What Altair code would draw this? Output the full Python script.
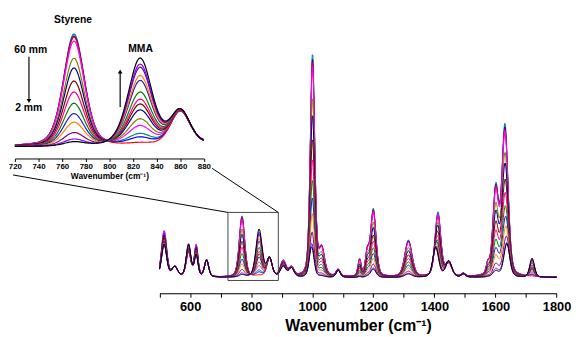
import altair as alt
import numpy as np
import pandas as pd

# ---- Raman band table (heights in main-panel px above baseline)
BAND_POS  = [515, 550, 595, 620, 654, 770, 826, 860, 905, 932, 997, 1001, 1031, 1085, 1155, 1180, 1200, 1315, 1404, 1412, 1447, 1495, 1575, 1601, 1631, 1638, 1720]
BAND_FWHM = [20, 22, 18, 14, 16, 21, 24, 20, 22, 20, 18, 17, 22, 16, 12, 14, 21, 28, 22, 22, 24, 16, 12, 22, 24, 22, 18]
STY_H     = [43, 0, 8, 24, 0, 62, 0, 0, 15, 0, 0, 224, 27, 0, 17, 22, 68, 37, 0, 63, 12, 0, 10, 87, 150, 0, 0]
MMA_H     = [32, 0, 17, 15, 0, 0, 48.5, 0, 10, 0, 24, 0, 0, 0, 0, 0, 6, 2, 29, 0, 16, 0, 0, 3, 0, 30, 19.5]
COM_H     = [0, 10, 16, 6, 17, 0, 0, 19, 0, 9, 0, 0, 0, 7, 0, 0, 0, 0, 0, 0, 0, 3, 0, 0, 0, 0, 0]

# ---- spectra (60 mm -> 2 mm): colour, styrene weight, MMA weight
SERIES = [f"spectrum {i:02d}" for i in range(1, 15)]
COLORS = ["#008080", "#0000FF", "#FF0000", "#FF00FF", "#808000", "#000080", "#800000",
          "#FF0080", "#008000", "#1E1EB4", "#FF8000", "#800080", "#8000FF", "#000000"]
STY_W = [1.0, 0.982, 0.974, 0.936, 0.783, 0.696, 0.579, 0.482, 0.38, 0.287, 0.21, 0.117, 0.059, 0.035]
MMA_W = [0.123, 0.084, 0.023, 0.214, 0.294, 0.397, 0.466, 0.523, 0.607, 0.741, 0.798, 0.893, 0.931, 1.0]

# ---- box, annotations
BOX_WN = [724, 889]
BOX_I = [-3, 66]
ANNOT_TEXT = ["Styrene", "MMA", "60 mm", "2 mm"]
ANNOT_WN = [769.2, 826.4, 733.4, 731.7]
ANNOT_I = [69.9, 54.0, 53.6, 21.6]
ARROW_WN = [731.9, 809.1]
ARROW_FROM = [50.0, 22.3]
ARROW_TO = [26.1, 41.3]
HEAD_I = [25.6, 41.8]
HEAD_SHAPE = ["triangle-down", "triangle-up"]


def band(x, x0, fwhm, eta=0.35):
    hw = fwhm / 2.0
    d = (x - x0) / hw
    return eta / (1 + d * d) + (1 - eta) * np.exp(-np.log(2) * d * d)


def build(wn):
    S = sum(h * band(wn, p, w) for p, w, h in zip(BAND_POS, BAND_FWHM, STY_H))
    M = sum(h * band(wn, p, w) for p, w, h in zip(BAND_POS, BAND_FWHM, MMA_H))
    C = sum(h * band(wn, p, w) for p, w, h in zip(BAND_POS, BAND_FWHM, COM_H))
    rows = []
    for name, s, m in zip(SERIES, STY_W, MMA_W):
        inten = s * S + m * M + C
        rows.append(pd.DataFrame({"wn": wn, "I": np.round(inten, 2), "series": name}))
    return pd.concat(rows, ignore_index=True)


df_main = build(np.arange(500, 1801, 2.0))
df_inset = build(np.arange(720, 880.5, 1.0))

# ---- layout (plot coordinates)
W, H = 564, 287
MX = [153.7, 556.3]
MY = [271, 31]
IX = [7, 198.7]
IY = [139, 139 - 70 * 1.84]
INSET_AXIS_Y = 150.3

FONT = "Liberation Sans"
color = alt.Color("series:N", scale=alt.Scale(domain=SERIES, range=COLORS), legend=None)

main_axis = alt.Axis(
    orient="bottom", offset=0, grid=False, values=list(range(500, 1801, 100)), format="d",
    labelExpr="datum.value % 200 == 0 ? datum.label : ''",
    domainColor="black", domainWidth=1.2, tickColor="black", tickSize=4, tickWidth=1,
    labelFont=FONT, labelFontSize=13, labelFontWeight="bold", labelColor="black",
    labelPadding=3, labelFlush=False, labelOverlap=False,
    title="Wavenumber (cm⁻¹)", titleFont=FONT, titleFontSize=16, titleFontWeight="bold",
    titleColor="black", titlePadding=5,
)
inset_axis = alt.Axis(
    orient="bottom", offset=INSET_AXIS_Y - H, grid=False, values=list(range(720, 881, 10)), format="d",
    labelExpr="datum.value % 20 == 0 ? datum.label : ''",
    domainColor="black", domainWidth=1, tickColor="black", tickSize=3, tickWidth=1,
    labelFont=FONT, labelFontSize=8, labelFontWeight="bold", labelColor="black",
    labelPadding=1, labelFlush=False, labelOverlap=False,
    title="Wavenumber (cm⁻¹)", titleFont=FONT, titleFontSize=8.5, titleFontWeight="bold",
    titleColor="black", titlePadding=1,
)

mx = alt.X("wn:Q", scale=alt.Scale(domain=[500, 1800], range=MX, nice=False, zero=False), axis=main_axis)
my = alt.Y("I:Q", scale=alt.Scale(domain=[0, 240], range=MY, nice=False, zero=False), axis=None)
ix = alt.X("wn:Q", scale=alt.Scale(domain=[720, 880], range=IX, nice=False, zero=False), axis=inset_axis)
iy = alt.Y("I:Q", scale=alt.Scale(domain=[0, 70], range=IY, nice=False, zero=False), axis=None)

main_lines = alt.Chart(df_main).mark_line(strokeWidth=1).encode(x=mx, y=my, color=color)
box = alt.Chart(pd.DataFrame({"wn": [BOX_WN[0]], "wn2": [BOX_WN[1]], "I": [BOX_I[0]], "I2": [BOX_I[1]]})).mark_rect(
    fillOpacity=0, stroke="#444444", strokeWidth=1
).encode(x="wn:Q", x2="wn2:Q", y="I:Q", y2="I2:Q")
main = alt.layer(main_lines, box)

inset_lines = alt.Chart(df_inset).mark_line(strokeWidth=1.2).encode(x=ix, y=iy, color=color)
texts = alt.Chart(pd.DataFrame({"wn": ANNOT_WN, "I": ANNOT_I, "label": ANNOT_TEXT})).mark_text(
    font=FONT, fontWeight="bold", fontSize=10.5, color="black", align="center", baseline="middle"
).encode(x="wn:Q", y="I:Q", text="label:N")
arrows = alt.Chart(pd.DataFrame({"wn": ARROW_WN, "I": ARROW_FROM, "I2": ARROW_TO})).mark_rule(
    color="black", strokeWidth=1.2
).encode(x="wn:Q", y="I:Q", y2="I2:Q")
heads = alt.Chart(pd.DataFrame({"wn": ARROW_WN, "I": HEAD_I, "shape": HEAD_SHAPE})).mark_point(
    filled=True, color="black", size=22, opacity=1
).encode(x="wn:Q", y="I:Q", shape=alt.Shape("shape:N", scale=None))
inset = alt.layer(inset_lines, texts, arrows, heads)

# connector lines from the inset axis ends to the box corners
box_left = MX[0] + (BOX_WN[0] - 500) * (MX[1] - MX[0]) / 1300
box_right = MX[0] + (BOX_WN[1] - 500) * (MX[1] - MX[0]) / 1300
box_top = MY[0] + (BOX_I[1] - 0) * (MY[1] - MY[0]) / 240
conn = alt.Chart(pd.DataFrame({"k": [0]})).mark_rule(color="black", strokeWidth=1)
conn_left = conn.encode(x=alt.value(5), y=alt.value(167), x2=alt.value(box_left), y2=alt.value(box_top))
conn_right = conn.encode(x=alt.value(207), y=alt.value(160.3), x2=alt.value(box_right), y2=alt.value(box_top))

chart = alt.layer(main, inset, conn_left, conn_right).resolve_scale(
    x="independent", y="independent"
).properties(
    width=W, height=H,
    autosize=alt.AutoSizeParams(type="none"),
    padding={"left": 0, "top": 0, "right": 8, "bottom": 40},
).configure_view(stroke=None)

chart.save("out.html", embed_options={"renderer": "svg", "actions": False})
